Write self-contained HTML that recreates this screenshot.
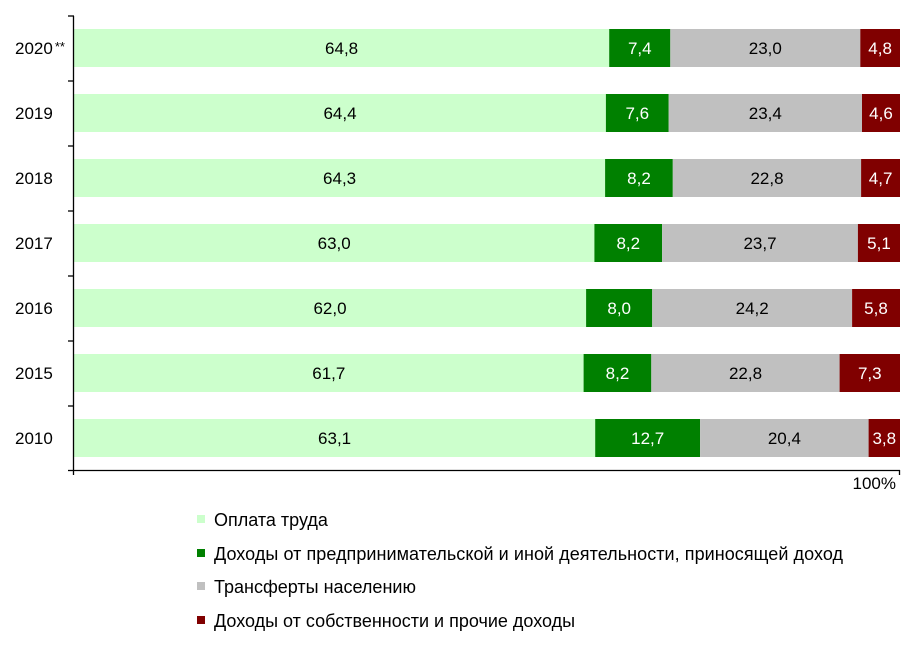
<!DOCTYPE html>
<html><head><meta charset="utf-8"><style>
body{margin:0;background:#fff}
svg text{font-family:"Liberation Sans",Arial,sans-serif;font-size:17px}
.w{fill:#fff}
</style></head><body>
<svg width="915" height="644" xmlns="http://www.w3.org/2000/svg">
<g>
<rect x="74" y="29" width="535.2" height="38" fill="#ccffcc"/><rect x="609.2" y="29" width="61.1" height="38" fill="#008000"/><rect x="670.3" y="29" width="190" height="38" fill="#c0c0c0"/><rect x="860.3" y="29" width="39.7" height="38" fill="#800000"/>
<rect x="74" y="94" width="531.9" height="38" fill="#ccffcc"/><rect x="605.9" y="94" width="62.8" height="38" fill="#008000"/><rect x="668.7" y="94" width="193.3" height="38" fill="#c0c0c0"/><rect x="862" y="94" width="38" height="38" fill="#800000"/>
<rect x="74" y="159" width="531.1" height="38" fill="#ccffcc"/><rect x="605.1" y="159" width="67.7" height="38" fill="#008000"/><rect x="672.8" y="159" width="188.3" height="38" fill="#c0c0c0"/><rect x="861.1" y="159" width="38.9" height="38" fill="#800000"/>
<rect x="74" y="224" width="520.4" height="38" fill="#ccffcc"/><rect x="594.4" y="224" width="67.7" height="38" fill="#008000"/><rect x="662.1" y="224" width="195.8" height="38" fill="#c0c0c0"/><rect x="857.9" y="224" width="42.1" height="38" fill="#800000"/>
<rect x="74" y="289" width="512.1" height="38" fill="#ccffcc"/><rect x="586.1" y="289" width="66.1" height="38" fill="#008000"/><rect x="652.2" y="289" width="199.9" height="38" fill="#c0c0c0"/><rect x="852.1" y="289" width="47.9" height="38" fill="#800000"/>
<rect x="74" y="354" width="509.6" height="38" fill="#ccffcc"/><rect x="583.6" y="354" width="67.7" height="38" fill="#008000"/><rect x="651.3" y="354" width="188.3" height="38" fill="#c0c0c0"/><rect x="839.6" y="354" width="60.4" height="38" fill="#800000"/>
<rect x="74" y="419" width="521.2" height="38" fill="#ccffcc"/><rect x="595.2" y="419" width="104.9" height="38" fill="#008000"/><rect x="700.1" y="419" width="168.5" height="38" fill="#c0c0c0"/><rect x="868.6" y="419" width="31.4" height="38" fill="#800000"/>
</g>
<g text-anchor="middle">
<text x="341.6" y="54">64,8</text><text class="w" x="639.8" y="54">7,4</text><text x="765.3" y="54">23,0</text><text class="w" x="880.1" y="54">4,8</text>
<text x="340" y="119">64,4</text><text class="w" x="637.3" y="119">7,6</text><text x="765.3" y="119">23,4</text><text class="w" x="881" y="119">4,6</text>
<text x="339.6" y="184">64,3</text><text class="w" x="639" y="184">8,2</text><text x="767" y="184">22,8</text><text class="w" x="880.6" y="184">4,7</text>
<text x="334.2" y="249">63,0</text><text class="w" x="628.3" y="249">8,2</text><text x="760" y="249">23,7</text><text class="w" x="879" y="249">5,1</text>
<text x="330" y="314">62,0</text><text class="w" x="619.2" y="314">8,0</text><text x="752.2" y="314">24,2</text><text class="w" x="876" y="314">5,8</text>
<text x="328.8" y="379">61,7</text><text class="w" x="617.5" y="379">8,2</text><text x="745.5" y="379">22,8</text><text class="w" x="869.8" y="379">7,3</text>
<text x="334.6" y="444">63,1</text><text class="w" x="647.7" y="444">12,7</text><text x="784.4" y="444">20,4</text><text class="w" x="884.3" y="444">3,8</text>
</g>
<g stroke="#000" stroke-width="1.3">
<line x1="73.5" y1="16" x2="73.5" y2="475"/>
<line x1="73" y1="470.5" x2="900" y2="470.5"/>
<line x1="899.5" y1="470" x2="899.5" y2="475"/>
<line x1="68" x2="74" y1="16" y2="16"/><line x1="68" x2="74" y1="81" y2="81"/><line x1="68" x2="74" y1="146" y2="146"/><line x1="68" x2="74" y1="211" y2="211"/><line x1="68" x2="74" y1="276" y2="276"/><line x1="68" x2="74" y1="341" y2="341"/><line x1="68" x2="74" y1="406" y2="406"/><line x1="68" x2="74" y1="470.5" y2="470.5"/>
</g>
<g>
<text x="15" y="54">2020<tspan font-size="13" dx="2" dy="-3">**</tspan></text>
<text x="15" y="119">2019</text>
<text x="15" y="184">2018</text>
<text x="15" y="249">2017</text>
<text x="15" y="314">2016</text>
<text x="15" y="379">2015</text>
<text x="15" y="444">2010</text>
</g>
<text x="896" y="489" text-anchor="end">100%</text>
<g>
<rect x="197" y="515" width="8" height="8" fill="#ccffcc"/>
<text x="214" y="526" style="font-size:18px">Оплата труда</text>
<rect x="197" y="549" width="8" height="8" fill="#008000"/>
<text x="214" y="560" style="font-size:18px" textLength="629" lengthAdjust="spacing">Доходы от предпринимательской и иной деятельности, приносящей доход</text>
<rect x="197" y="582" width="8" height="8" fill="#c0c0c0"/>
<text x="214" y="593" style="font-size:18px">Трансферты населению</text>
<rect x="197" y="616" width="8" height="8" fill="#800000"/>
<text x="214" y="627" style="font-size:18px">Доходы от собственности и прочие доходы</text>
</g>
</svg>
</body></html>
